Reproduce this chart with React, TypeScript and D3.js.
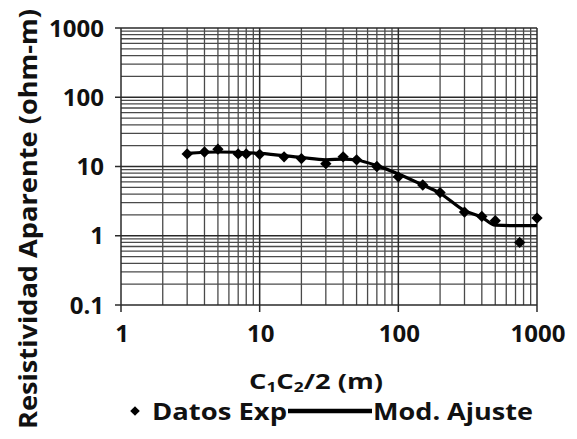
import React from "react";
import * as d3 from "d3";

const xExp = [3, 4, 5, 7, 8, 10, 15, 20, 30, 40, 50, 70, 100, 150, 200, 300, 400, 500, 750, 1000];
const yExp = [15.2, 16.2, 17.8, 15.2, 15.2, 15, 13.8, 13, 11, 13.8, 12.5, 10, 7.1, 5.4, 4.2, 2.2, 1.9, 1.65, 0.8, 1.8];

const xMod = [3, 5, 10, 20, 30, 40, 50, 70, 100, 150, 200, 300, 400, 500, 750, 1000];
const yMod = [15.5, 16.2, 15.5, 13.5, 12.5, 12.8, 12.4, 10.3, 7.8, 5.4, 4.1, 2.3, 1.85, 1.42, 1.4, 1.4];

const xTicks = [1, 10, 100, 1000];
const yTicks = [0.1, 1, 10, 100, 1000];
const xTickLabels = ["1", "10", "100", "1000"];
const yTickLabels = ["0.1", "1", "10", "100", "1000"];

const yTitle = "Resistividad Aparente (ohm-m)";
const legendExp = "Datos Exp";
const legendMod = "Mod. Ajuste";

const W = 577;
const H = 439;
const L = 121, R = 537, T = 28, B = 305;
const FONT = "'Open Sans', 'Noto Sans', sans-serif";

export default function App() {
  const x = d3.scaleLog().domain([1, 1000]).range([L, R]);
  const y = d3.scaleLog().domain([0.1, 1000]).range([B, T]);

  const minorX: number[] = [];
  for (let d = 1; d < 1000; d *= 10) for (let k = 2; k <= 9; k++) minorX.push(d * k);
  const minorY: number[] = [];
  for (let d = 0.1; d < 999; d *= 10) for (let k = 2; k <= 9; k++) minorY.push(d * k);

  const line = d3
    .line<number>()
    .x((_, i) => x(xMod[i]))
    .y((v) => y(v))
    .curve(d3.curveMonotoneX);

  const diamond = d3.symbol().type(d3.symbolSquare).size(64)();
  const grid = "#4a4a4a";

  return (
    <svg width={W} height={H} style={{ position: "absolute", left: 0, top: 0, background: "#fff" }} fontFamily={FONT}>
      <rect x={0} y={0} width={W} height={H} fill="#fff" />
      <g stroke={grid} strokeWidth={1.3}>
        {minorX.map((v, i) => (
          <line key={"mx" + i} x1={x(v)} x2={x(v)} y1={T} y2={B} />
        ))}
        {minorY.map((v, i) => (
          <line key={"my" + i} x1={L} x2={R} y1={y(v)} y2={y(v)} />
        ))}
      </g>
      <g stroke="#2a2a2a" strokeWidth={1.5}>
        {xTicks.map((v, i) => (
          <line key={"Mx" + i} x1={x(v)} x2={x(v)} y1={T} y2={B + 7} />
        ))}
        {yTicks.map((v, i) => (
          <line key={"My" + i} x1={L - 6} x2={R} y1={y(v)} y2={y(v)} />
        ))}
      </g>
      <path d={line(yMod) || ""} fill="none" stroke="#000" strokeWidth={3.2} strokeLinejoin="round" />
      {xExp.map((v, i) => (
        <path key={"p" + i} d={diamond || ""} transform={`translate(${x(v)},${y(yExp[i])}) rotate(45)`} fill="#000" />
      ))}
      <g fontWeight={700} fontSize={24} fill="#111">
        {yTicks.map((v, i) => (
          <text key={"yt" + i} x={104} y={y(v)} dy="0.36em" textAnchor="end">
            {yTickLabels[i]}
          </text>
        ))}
        {xTicks.map((v, i) => (
          <text key={"xt" + i} x={x(v) + 1} y={333} dy="0.36em" textAnchor="middle">
            {xTickLabels[i]}
          </text>
        ))}
        <text x={249} y={389} fontSize={22} textLength={134} lengthAdjust="spacingAndGlyphs">
          C<tspan fontSize={14} dy={3}>1</tspan>
          <tspan dy={-3}>C</tspan>
          <tspan fontSize={14} dy={3}>2</tspan>
          <tspan dy={-3}>/2 (m)</tspan>
        </text>
        <text
          transform={`translate(37,219) rotate(-90)`}
          textAnchor="middle"
          fontSize={25}
          textLength={420}
          lengthAdjust="spacingAndGlyphs"
        >
          {yTitle}
        </text>
        <path d={diamond || ""} transform="translate(135,411) rotate(45) scale(0.85)" fill="#000" />
        <text x={152} y={420} fontSize={23} textLength={135} lengthAdjust="spacingAndGlyphs">
          {legendExp}
        </text>
        <line x1={288} x2={372} y1={411} y2={411} stroke="#000" strokeWidth={4.5} />
        <text x={373} y={420} fontSize={23} textLength={160} lengthAdjust="spacingAndGlyphs">
          {legendMod}
        </text>
      </g>
    </svg>
  );
}
